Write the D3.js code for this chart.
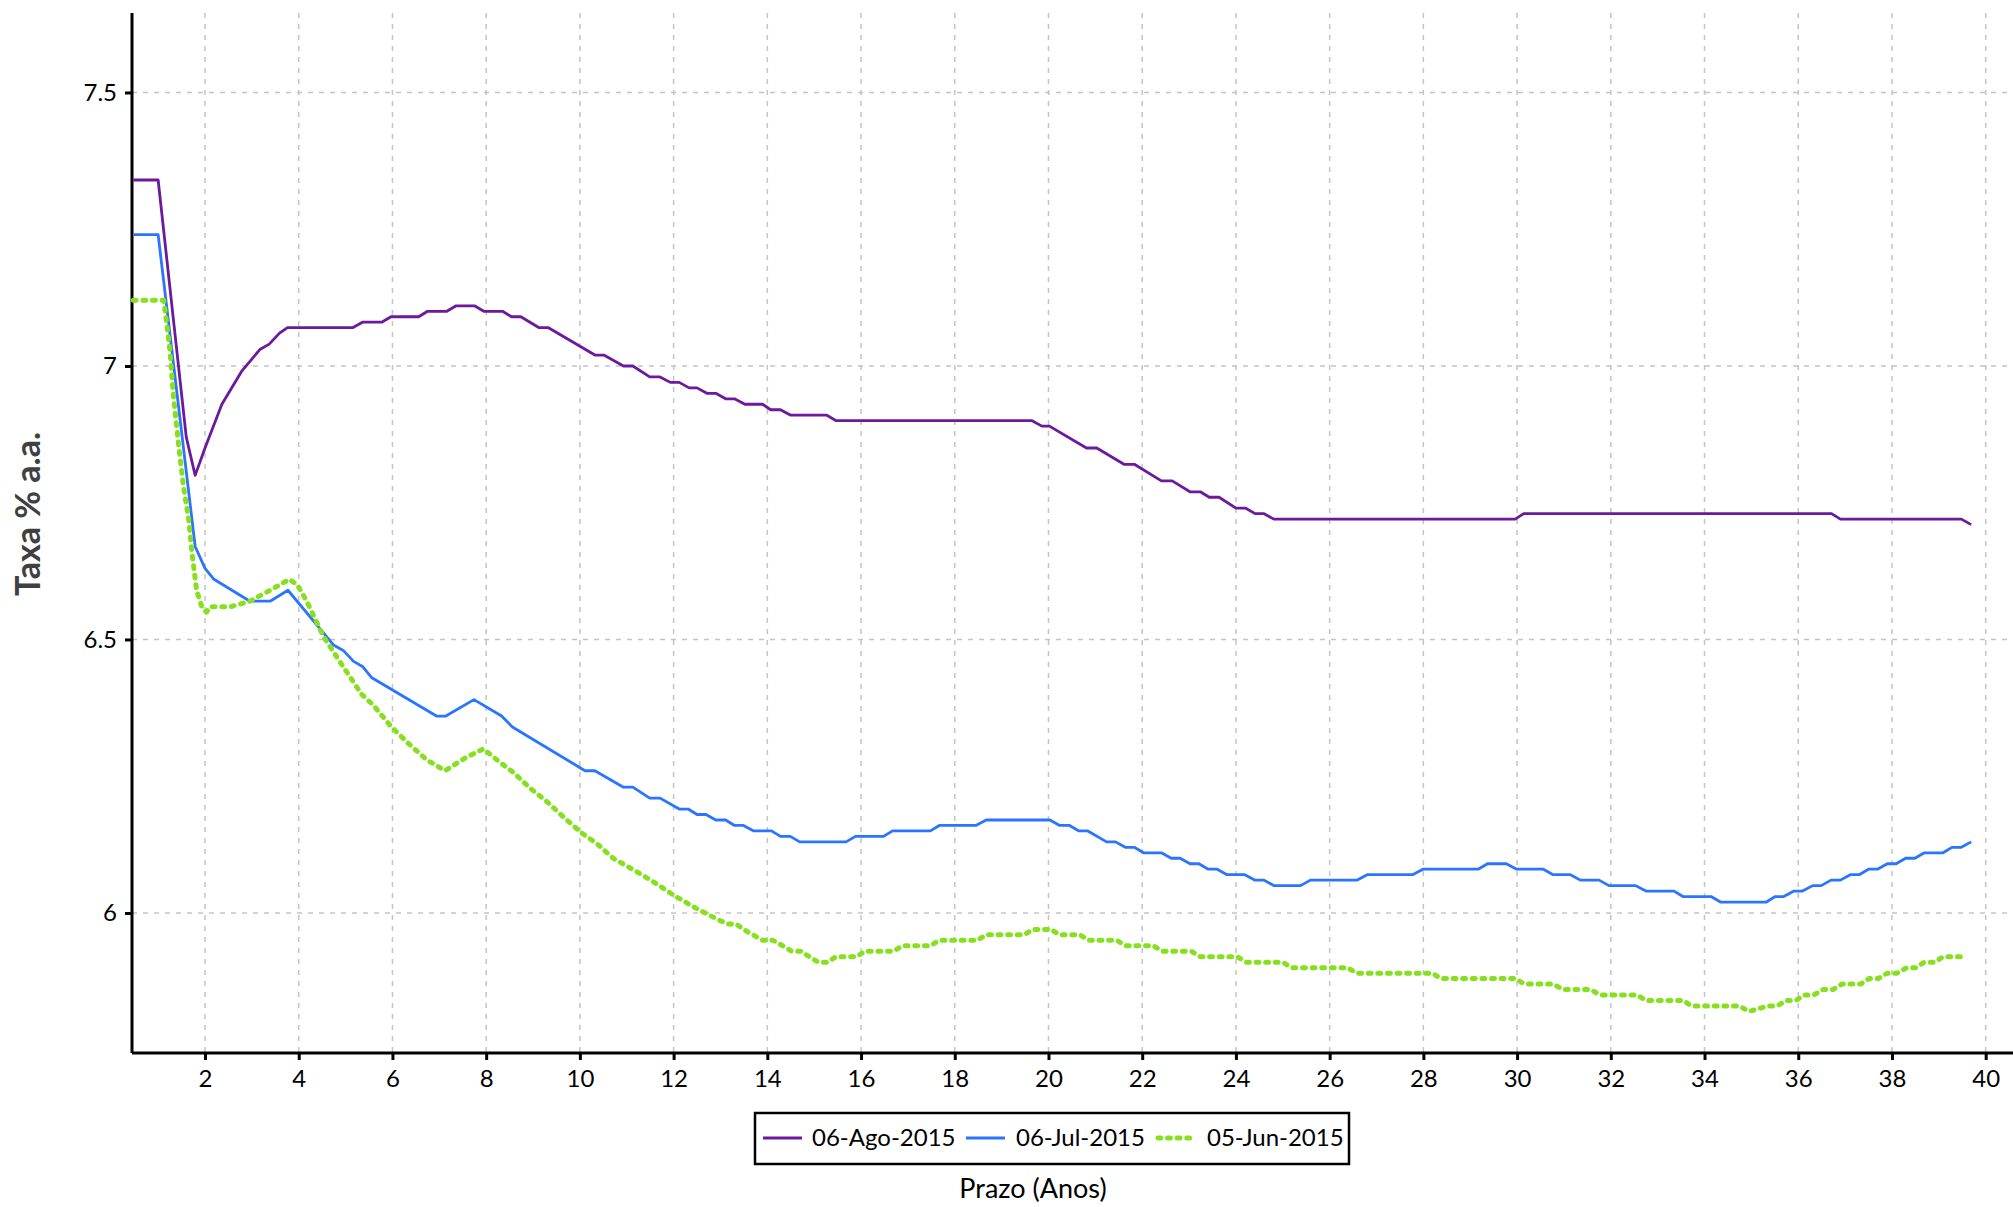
<!DOCTYPE html>
<html><head><meta charset="utf-8">
<script src="https://cdn.jsdelivr.net/npm/d3@7"></script>
<style>body{margin:0;background:#fff}svg{display:block}</style>
</head><body><svg id="c" width="2013" height="1207"></svg>
<script>
const seriesNames = ["06-Ago-2015","06-Jul-2015","05-Jun-2015"];
const xTicks = [2,4,6,8,10,12,14,16,18,20,22,24,26,28,30,32,34,36,38,40];
const yTicks = [6,6.5,7,7.5];
const yTickLabels = ["6","6.5","7","7.5"];
const ago = [[0.47,7.34],[1.0,7.34],[1.6,6.87],[1.79,6.80],[2.0,6.85],[2.36,6.93],[2.78,6.99],[3.17,7.03],[3.37,7.04],[3.59,7.06],[3.76,7.07],[5.15,7.07],[5.36,7.08],[5.77,7.08],[5.97,7.09],[6.56,7.09],[6.75,7.10],[7.16,7.10],[7.36,7.11],[7.75,7.11],[7.95,7.10],[8.35,7.10],[8.54,7.09],[8.74,7.09],[9.13,7.07],[9.33,7.07],[10.32,7.02],[10.51,7.02],[10.93,7.00],[11.13,7.00],[11.49,6.98],[11.71,6.98],[11.93,6.97],[12.12,6.97],[12.33,6.96],[12.50,6.96],[12.71,6.95],[12.90,6.95],[13.11,6.94],[13.30,6.94],[13.52,6.93],[13.90,6.93],[14.07,6.92],[14.28,6.92],[14.50,6.91],[15.27,6.91],[15.47,6.90],[19.65,6.90],[19.86,6.89],[20.02,6.89],[20.81,6.85],[21.03,6.85],[21.62,6.82],[21.84,6.82],[22.41,6.79],[22.64,6.79],[23.02,6.77],[23.24,6.77],[23.43,6.76],[23.64,6.76],[24.00,6.74],[24.21,6.74],[24.41,6.73],[24.60,6.73],[24.81,6.72],[29.96,6.72],[30.14,6.73],[36.71,6.73],[36.90,6.72],[39.48,6.72],[39.69,6.71]];
const jul = [[0.47,7.24],[1.0,7.24],[1.79,6.67],[2.0,6.63],[2.19,6.61],[2.96,6.57],[3.39,6.57],[3.77,6.59],[4.74,6.49],[4.95,6.48],[5.17,6.46],[5.37,6.45],[5.56,6.43],[6.94,6.36],[7.14,6.36],[7.74,6.39],[8.33,6.36],[8.56,6.34],[10.11,6.26],[10.32,6.26],[10.93,6.23],[11.13,6.23],[11.49,6.21],[11.71,6.21],[12.12,6.19],[12.31,6.19],[12.50,6.18],[12.69,6.18],[12.90,6.17],[13.11,6.17],[13.30,6.16],[13.49,6.16],[13.71,6.15],[14.09,6.15],[14.28,6.14],[14.49,6.14],[14.69,6.13],[15.68,6.13],[15.88,6.14],[16.48,6.14],[16.67,6.15],[17.48,6.15],[17.67,6.16],[18.45,6.16],[18.67,6.17],[20.03,6.17],[20.24,6.16],[20.45,6.16],[20.65,6.15],[20.84,6.15],[21.24,6.13],[21.43,6.13],[21.64,6.12],[21.83,6.12],[22.03,6.11],[22.41,6.11],[22.62,6.10],[22.81,6.10],[23.02,6.09],[23.21,6.09],[23.41,6.08],[23.60,6.08],[23.81,6.07],[24.19,6.07],[24.41,6.06],[24.60,6.06],[24.81,6.05],[25.38,6.05],[25.59,6.06],[26.58,6.06],[26.80,6.07],[27.77,6.07],[27.99,6.08],[29.17,6.08],[29.37,6.09],[29.77,6.09],[29.99,6.08],[30.56,6.08],[30.77,6.07],[31.14,6.07],[31.35,6.06],[31.75,6.06],[31.96,6.05],[32.53,6.05],[32.75,6.04],[33.35,6.04],[33.54,6.03],[34.14,6.03],[34.34,6.02],[35.32,6.02],[35.51,6.03],[35.69,6.03],[35.91,6.04],[36.09,6.04],[36.31,6.05],[36.49,6.05],[36.70,6.06],[36.90,6.06],[37.11,6.07],[37.30,6.07],[37.50,6.08],[37.69,6.08],[37.90,6.09],[38.09,6.09],[38.29,6.10],[38.49,6.10],[38.69,6.11],[39.09,6.11],[39.28,6.12],[39.48,6.12],[39.69,6.13]];
const jun = [[0.47,7.12],[1.12,7.12],[1.25,7.03],[1.32,6.95],[1.43,6.86],[1.54,6.78],[1.65,6.72],[1.72,6.66],[1.82,6.59],[1.93,6.56],[2.03,6.55],[2.12,6.56],[2.55,6.56],[2.96,6.57],[3.39,6.59],[3.8,6.61],[3.97,6.60],[4.17,6.57],[4.53,6.505],[4.95,6.45],[5.34,6.40],[5.59,6.38],[5.98,6.34],[6.34,6.31],[6.73,6.28],[7.12,6.26],[7.58,6.285],[7.94,6.30],[8.30,6.275],[8.58,6.257],[8.94,6.228],[9.29,6.204],[9.72,6.17],[10.04,6.146],[10.36,6.127],[10.71,6.10],[11.14,6.079],[11.57,6.057],[11.99,6.033],[12.49,6.008],[12.90,5.99],[13.14,5.98],[13.33,5.98],[13.55,5.967],[13.90,5.95],[14.12,5.95],[14.33,5.94],[14.52,5.93],[14.71,5.93],[15.09,5.91],[15.28,5.91],[15.47,5.92],[15.90,5.92],[16.09,5.93],[16.69,5.93],[16.88,5.94],[17.48,5.94],[17.67,5.95],[18.48,5.95],[18.67,5.96],[19.48,5.96],[19.67,5.97],[20.05,5.97],[20.24,5.96],[20.67,5.96],[20.86,5.95],[21.46,5.95],[21.65,5.94],[22.24,5.94],[22.43,5.93],[23.05,5.93],[23.24,5.92],[24.03,5.92],[24.22,5.91],[25.00,5.91],[25.19,5.90],[26.38,5.90],[26.58,5.89],[28.19,5.89],[28.38,5.88],[29.96,5.88],[30.16,5.87],[30.77,5.87],[30.98,5.86],[31.57,5.86],[31.77,5.85],[32.56,5.85],[32.75,5.84],[33.55,5.84],[33.72,5.83],[34.74,5.83],[34.95,5.82],[35.35,5.83],[35.55,5.83],[35.75,5.84],[35.95,5.84],[36.14,5.85],[36.33,5.85],[36.53,5.86],[36.74,5.86],[36.93,5.87],[37.33,5.87],[37.51,5.88],[37.71,5.88],[37.90,5.89],[38.11,5.89],[38.32,5.90],[38.51,5.90],[38.69,5.91],[38.91,5.91],[39.09,5.92],[39.53,5.92]];

const colors = ["#6B1A9C","#2B74FF","#86E01E"];
const FONT = "Lato, 'Open Sans', sans-serif";
const svg = d3.select("#c");
const L = 132, R = 2013, T = 13, B = 1053;
const x = d3.scaleLinear().domain([0.442, 40.583]).range([L, R]);
const y = d3.scaleLinear().domain([5.744, 7.6453]).range([B, T]);

// grid
const grid = svg.append("g").attr("stroke","#c4c4c4").attr("stroke-width",1.5).attr("stroke-dasharray","5,6");
grid.selectAll("line.v").data(xTicks).join("line").attr("class","v")
  .attr("x1",d=>x(d)).attr("x2",d=>x(d)).attr("y1",T).attr("y2",B);
grid.selectAll("line.h").data(yTicks).join("line").attr("class","h")
  .attr("x1",L).attr("x2",R).attr("y1",d=>y(d)).attr("y2",d=>y(d));

// axes
const xAxis = svg.append("g").attr("transform",`translate(0,${B})`)
  .call(d3.axisBottom(x).tickValues(xTicks).tickSize(7).tickPadding(10).tickFormat(d3.format("d")));
const yAxis = svg.append("g").attr("transform",`translate(${L},0)`)
  .call(d3.axisLeft(y).tickValues(yTicks).tickSize(7).tickPadding(8).tickFormat((d,i)=>yTickLabels[i]));
[xAxis,yAxis].forEach(a=>{
  a.select(".domain").attr("stroke","#000").attr("stroke-width",3);
  a.selectAll(".tick line").attr("stroke","#000").attr("stroke-width",3);
  a.selectAll(".tick text").attr("font-family",FONT).attr("font-size",24).attr("fill","#000");
});
xAxis.select(".domain").attr("d",`M${L},0H${R}`);
yAxis.select(".domain").attr("d",`M0,${T}V${B}`);

// lines
const line = d3.line().x(d=>x(d[0])).y(d=>y(d[1]));
const data = [ago, jul, jun];
const plot = svg.append("g");
const DOT = "2.8,6.8";
data.forEach((s,i)=>{
  const p = plot.append("path").datum(s).attr("d",line).attr("fill","none")
    .attr("stroke",colors[i]).attr("stroke-linejoin","round");
  if(i===2){ p.attr("stroke-width",5).attr("stroke-dasharray",DOT).attr("stroke-linecap","round"); }
  else { p.attr("stroke-width",2.8); }
});

// legend
const lg = svg.append("g");
lg.append("rect").attr("x",755).attr("y",1113).attr("width",594).attr("height",51)
  .attr("fill","#fff").attr("stroke","#000").attr("stroke-width",2.5);
const legPos = [[763,812],[966,1016],[1155,1207]];
seriesNames.forEach((n,i)=>{
  const ln = lg.append("line").attr("x1",legPos[i][0]).attr("x2",legPos[i][0]+39)
    .attr("y1",1138).attr("y2",1138).attr("stroke",colors[i]);
  if(i===2) ln.attr("stroke-width",5).attr("stroke-dasharray",DOT).attr("stroke-linecap","round").attr("x1",legPos[i][0]+3);
  else ln.attr("stroke-width",2.8);
  lg.append("text").attr("x",legPos[i][1]).attr("y",1138).attr("dy","0.35em")
    .attr("font-family",FONT).attr("font-size",24).attr("fill","#000").text(n);
});

// titles
svg.append("text").attr("x",1033).attr("y",1198).attr("text-anchor","middle")
  .attr("font-family",FONT).attr("font-size",27).attr("fill","#000").text("Prazo (Anos)");
svg.append("text").attr("transform","translate(40,514) rotate(-90)").attr("text-anchor","middle")
  .attr("font-family",FONT).attr("font-size",34).attr("font-weight","bold").attr("fill","#404040").text("Taxa % a.a.");
</script></body></html>
